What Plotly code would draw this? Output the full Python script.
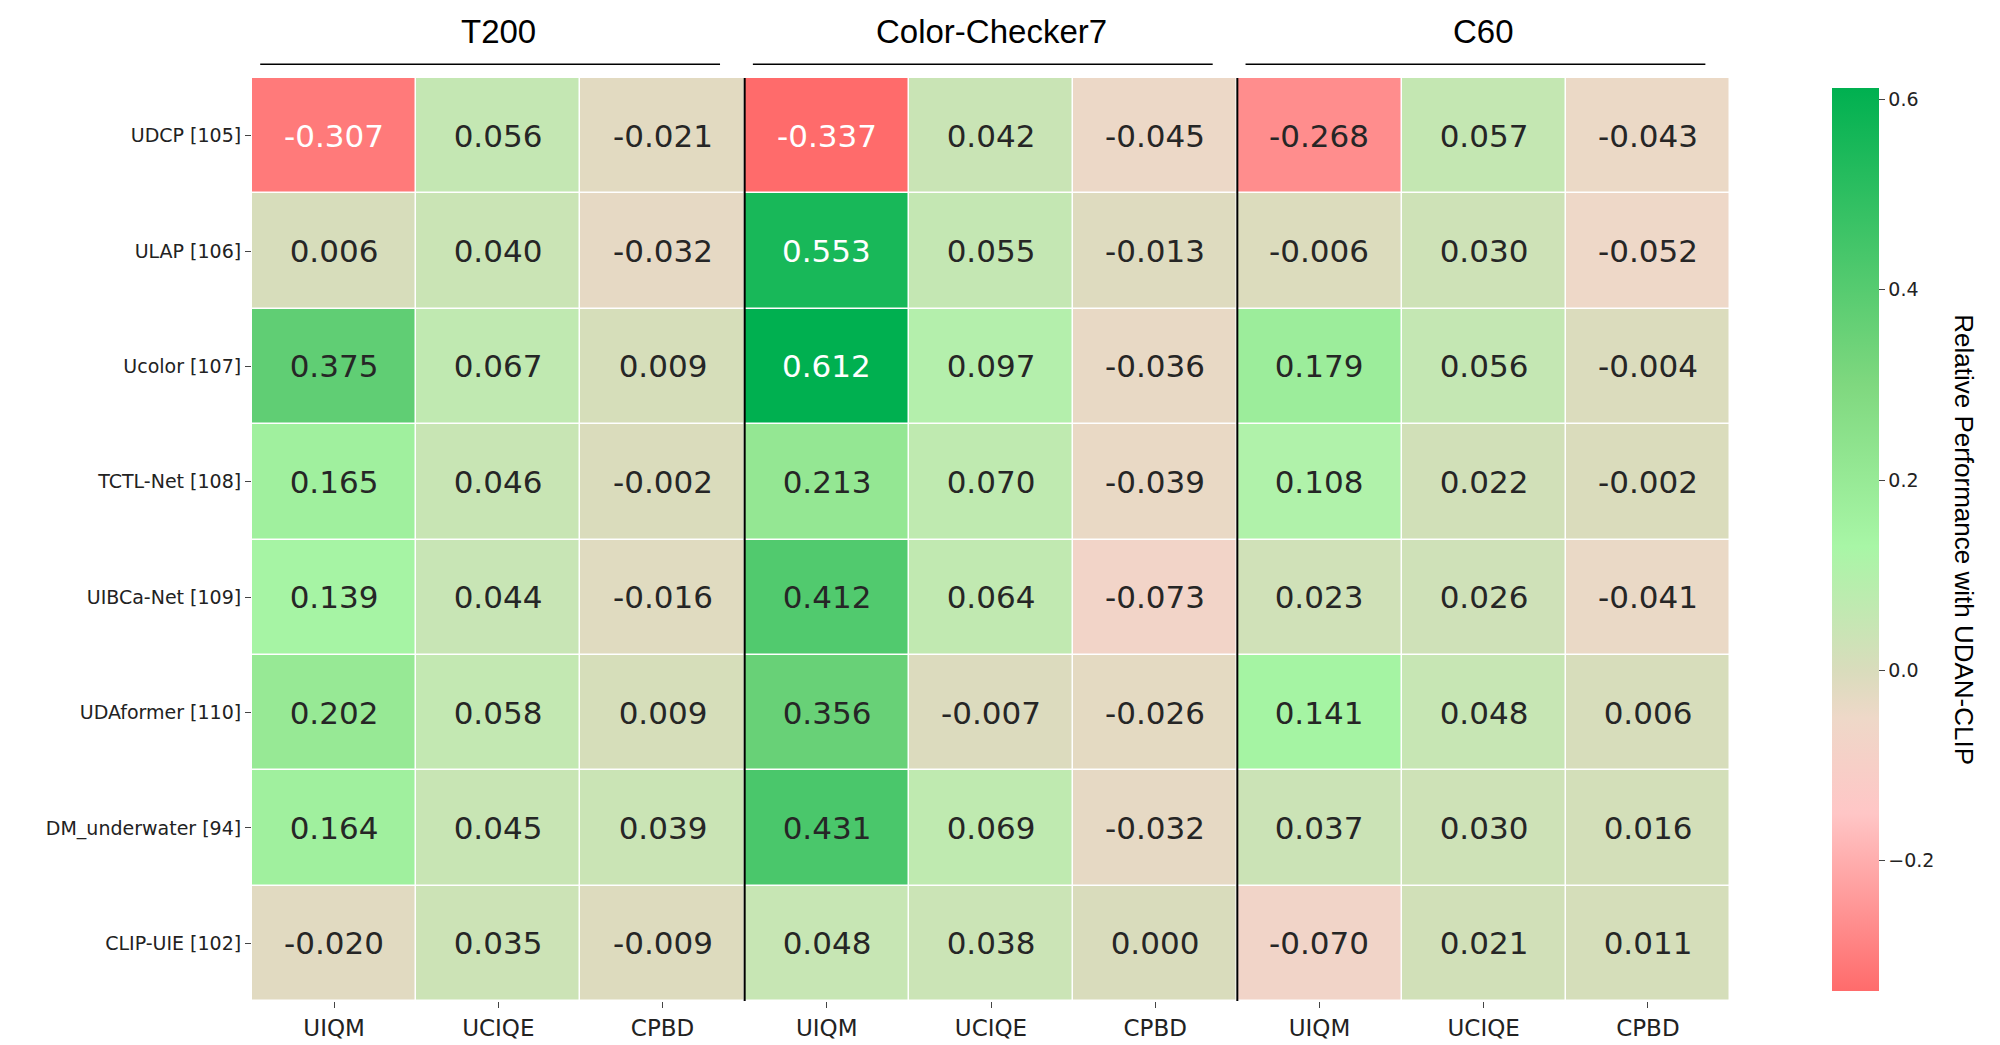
import plotly.graph_objects as go

methods = ["UDCP [105]", "ULAP [106]", "Ucolor [107]", "TCTL-Net [108]",
           "UIBCa-Net [109]", "UDAformer [110]", "DM_underwater [94]", "CLIP-UIE [102]"]
metrics = ["UIQM", "UCIQE", "CPBD"]
datasets = ["T200", "Color-Checker7", "C60"]

t200 = [[-0.307, 0.056, -0.021], [0.006, 0.040, -0.032], [0.375, 0.067, 0.009],
        [0.165, 0.046, -0.002], [0.139, 0.044, -0.016], [0.202, 0.058, 0.009],
        [0.164, 0.045, 0.039], [-0.020, 0.035, -0.009]]
cc7 = [[-0.337, 0.042, -0.045], [0.553, 0.055, -0.013], [0.612, 0.097, -0.036],
       [0.213, 0.070, -0.039], [0.412, 0.064, -0.073], [0.356, -0.007, -0.026],
       [0.431, 0.069, -0.032], [0.048, 0.038, 0.000]]
c60 = [[-0.268, 0.057, -0.043], [-0.006, 0.030, -0.052], [0.179, 0.056, -0.004],
       [0.108, 0.022, -0.002], [0.023, 0.026, -0.041], [0.141, 0.048, 0.006],
       [0.037, 0.030, 0.016], [-0.070, 0.021, 0.011]]

z = [a + b + c for a, b, c in zip(t200, cc7, c60)]
zmin = min(min(r) for r in z)
zmax = max(max(r) for r in z)

def pos(v):
    return (v - zmin) / (zmax - zmin)

colorscale = [
    [0.0, "#ff6b6b"],
    [pos(-0.15), "#ffc6c6"],
    [pos(-0.05), "#eed8c8"],
    [pos(0.0), "#d9dcbc"],
    [pos(0.13), "#a8f6a6"],
    [pos(0.3), "#7fd87f"],
    [1.0, "#00b050"],
]

def is_strong(v):
    return v > 0.5 or v < -0.3

xs = list(range(9))
text = [[("" if is_strong(v) else f"{v:.3f}") for v in row] for row in z]

fig = go.Figure(go.Heatmap(
    z=z, x=xs, y=methods, text=text, texttemplate="%{text}",
    textfont=dict(size=31, family="DejaVu Sans", color="#262626"),
    colorscale=colorscale, zmin=zmin, zmax=zmax, xgap=1.5, ygap=1.5,
    colorbar=dict(x=1.062, xanchor="left", y=0.5, len=1.0, thickness=47,
                  tickvals=[-0.2, 0, 0.2, 0.4, 0.6],
                  ticktext=["\u22120.2", "0.0", "0.2", "0.4", "0.6"],
                  ticks="outside", ticklen=6, outlinewidth=0,
                  tickfont=dict(size=19, family="DejaVu Sans", color="#222")),
))

# white text on the strongest cells
for i, row in enumerate(z):
    for j, v in enumerate(row):
        if is_strong(v):
            fig.add_annotation(x=j, y=methods[i], text=f"{v:.3f}", showarrow=False,
                               font=dict(size=31, family="DejaVu Sans", color="white"))

for k, name in enumerate(datasets):
    fig.add_shape(type="line", xref="x", yref="paper", x0=3 * k - 0.45, x1=3 * k + 2.35,
                  y0=1.015, y1=1.015, line=dict(color="black", width=1.5))
    fig.add_annotation(x=3 * k + 1, y=1.05, xref="x", yref="paper", text=name,
                       showarrow=False, yanchor="middle",
                       font=dict(size=33, family="Liberation Sans", color="black"))
for xv in [2.5, 5.5]:
    fig.add_shape(type="line", xref="x", yref="paper", x0=xv, x1=xv, y0=0, y1=1,
                  line=dict(color="black", width=2))

fig.add_annotation(x=1.17, y=0.5, xref="paper", yref="paper", text="Relative Performance with UDAN-CLIP",
                   textangle=90, showarrow=False,
                   font=dict(size=26, family="Liberation Sans", color="black"))

fig.update_xaxes(tickvals=xs, ticktext=metrics * 3, ticks="outside", ticklen=6,
                 tickfont=dict(size=23, family="DejaVu Sans", color="#222"), showgrid=False, zeroline=False)
fig.update_yaxes(autorange="reversed", ticks="outside", ticklen=6,
                 tickfont=dict(size=19, family="DejaVu Sans", color="#222"), showgrid=False)

fig.update_layout(width=2000, height=1045, plot_bgcolor="white", paper_bgcolor="white",
                  margin=dict(l=244, r=278, t=70, b=48))
fig.write_html("out.html")
